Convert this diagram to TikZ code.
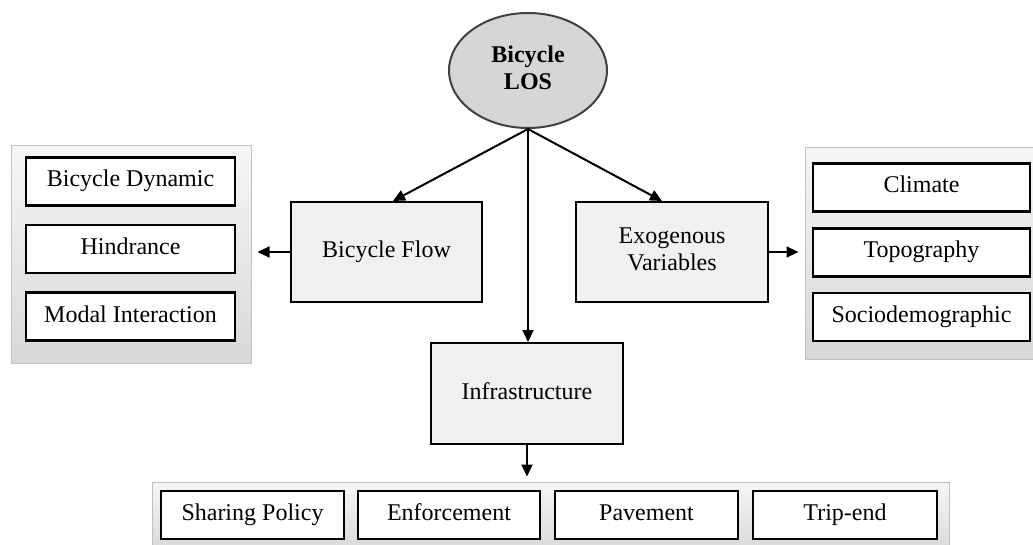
\documentclass[tikz,border=0pt]{standalone}
\usepackage{fontspec}
\setmainfont{Liberation Serif}
\usetikzlibrary{shapes.geometric,arrows.meta,calc}
\definecolor{boxfill}{HTML}{F0F0F0}
\definecolor{ellfill}{HTML}{D6D6D6}
\definecolor{ellline}{HTML}{404040}
\definecolor{grpline}{HTML}{C0C0C0}
\definecolor{grptop}{HTML}{F6F6F6}
\definecolor{grpbot}{HTML}{D8D8D8}
\tikzset{
  txt/.style={font=\fontsize{24}{27}\selectfont, align=center, inner sep=0pt, text height=16.5pt, text depth=5.5pt},
  twolines/.style={text height=43.5pt},
  mainbox/.style={txt, draw=black, line width=2pt, fill=boxfill, minimum width=192pt, minimum height=100pt},
  itembox/.style={txt, draw=black, line width=2.5pt, fill=white, minimum height=48pt},
  grp/.style={draw=grpline, line width=1pt, top color=grptop, bottom color=grpbot, inner sep=0pt},
  arr/.style={line width=2pt, -{Triangle[length=12pt,width=11pt]}},
}
\begin{document}
\begin{tikzpicture}[x=1pt,y=-1pt]
\useasboundingbox (0,0) rectangle (1033,545);
\clip (0,0) rectangle (1033,545);
% groups
\node[grp, minimum width=240pt, minimum height=217pt] (leftgrp) at (131,254.5) {};
\node[grp, minimum width=235pt, minimum height=211pt] (rightgrp) at (922.5,253.5) {};
\node[grp, minimum width=797pt, minimum height=70pt] (botgrp) at (550.5,517) {};
% items left
\node[itembox, minimum width=209pt] (dyn) at (130.5,181.5) {Bicycle Dynamic};
\node[itembox, minimum width=209pt] (hind) at (130.5,249) {Hindrance};
\node[itembox, minimum width=209pt] (modal) at (130.5,316.5) {Modal Interaction};
% items right
\node[itembox, minimum width=217pt] (clim) at (921.5,187.5) {Climate};
\node[itembox, minimum width=217pt] (topo) at (921.5,252.5) {Topography};
\node[itembox, minimum width=217pt] (socio) at (921.5,317) {Sociodemographic};
% items bottom
\node[itembox, minimum width=183pt] (share) at (252.5,515) {Sharing Policy};
\node[itembox, minimum width=182pt] (enf) at (449,515) {Enforcement};
\node[itembox, minimum width=183pt] (pave) at (646.5,515) {Pavement};
\node[itembox, minimum width=184pt] (trip) at (845,515) {Trip-end};
% main
\node[txt, twolines, ellipse, draw=ellline, line width=2pt, fill=ellfill, minimum width=158pt, minimum height=115pt, font=\fontsize{24}{27}\selectfont\bfseries] (los) at (528,70.5) {Bicycle\\LOS};
\node[mainbox, minimum width=191pt] (flow) at (386.5,252) {Bicycle Flow};
\node[mainbox, twolines] (exo) at (672,252) {Exogenous\\Variables};
\node[mainbox, minimum height=101pt] (infra) at (527,393.5) {Infrastructure};
% arrows
\draw[arr] (los.south) -- ([xshift=6.5pt]flow.north);
\draw[arr] (los.south) -- ([xshift=-10pt]exo.north);
\draw[arr] (los.south) -- (los.south |- infra.north);
\draw[arr, shorten >=6pt] (flow.west) -- (flow.west -| leftgrp.east);
\draw[arr, shorten >=6pt] (exo.east) -- (exo.east -| rightgrp.west);
\draw[arr, shorten >=5pt] (infra.south) -- (infra.south |- botgrp.north);
\end{tikzpicture}
\end{document}
